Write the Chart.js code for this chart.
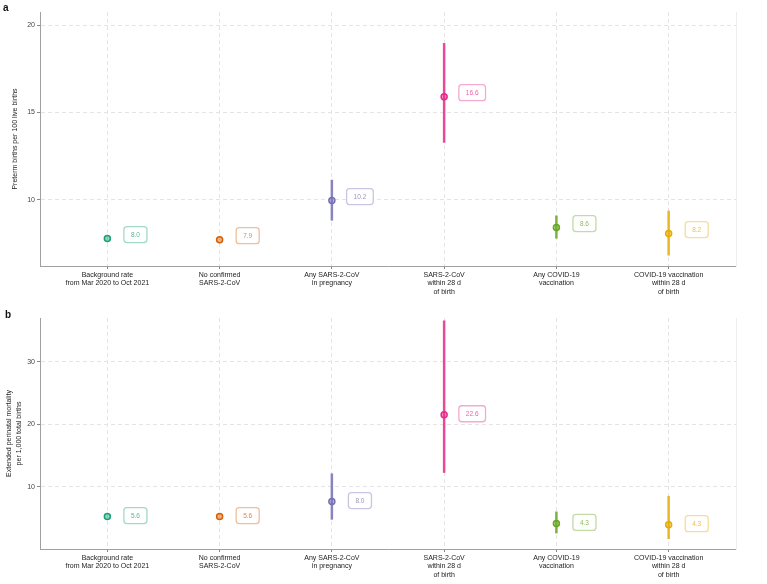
<!DOCTYPE html>
<html><head><meta charset="utf-8">
<script src="https://cdn.jsdelivr.net/npm/chart.js@4.4.0/dist/chart.umd.min.js"></script>
<style>
html,body{margin:0;padding:0;background:#fff;}
body{width:767px;height:584px;position:relative;overflow:hidden;font-family:'Liberation Sans',Arial,sans-serif;}
.panel{position:absolute;left:0;width:767px;}
.tag{position:absolute;font-weight:bold;font-size:10px;color:#111;line-height:10px;}
</style></head><body>
<div class="panel" style="top:0;height:300px"><canvas id="ca" width="767" height="300"></canvas></div>
<div class="panel" style="top:300px;height:284px"><canvas id="cb" width="767" height="284"></canvas></div>
<div class="tag" style="left:3px;top:3px">a</div>
<div class="tag" style="left:5px;top:310px">b</div>
<script>
// ---- data ----
const categories = [
  ['Background rate', 'from Mar 2020 to Oct 2021'],
  ['No confirmed', 'SARS-2-CoV'],
  ['Any SARS-2-CoV', 'in pregnancy'],
  ['SARS-2-CoV', 'within 28 d', 'of birth'],
  ['Any COVID-19', 'vaccination'],
  ['COVID-19 vaccination', 'within 28 d', 'of birth']
];
const colors = ['#1b9e77', '#d95f02', '#7570b3', '#e7298a', '#66a61e', '#e6ab02'];

const pretermRate   = [7.77, 7.71, 9.95, 15.9, 8.4, 8.06];
const pretermLower  = [null, null, 8.8, 13.26, 7.77, 6.8];
const pretermUpper  = [null, null, 11.14, 18.97, 9.09, 9.37];
const pretermLabels = ['8.0', '7.9', '10.2', '16.6', '8.6', '8.2'];
const pretermTicks  = [10, 15, 20];

const mortalityRate   = [5.2, 5.2, 7.6, 21.5, 4.1, 3.9];
const mortalityLower  = [null, null, 4.7, 12.2, 2.5, 1.6];
const mortalityUpper  = [null, null, 12.1, 36.6, 6.0, 8.5];
const mortalityLabels = ['5.6', '5.6', '8.0', '22.6', '4.3', '4.3'];
const mortalityTicks  = [10, 20, 30];

// ---- helpers ----
const FONT = "'Liberation Sans', Arial, sans-serif";
function hexA(hex, a) {
  const n = parseInt(hex.slice(1), 16);
  return `rgba(${(n >> 16) & 255},${(n >> 8) & 255},${n & 255},${a})`;
}

const valueBoxes = {
  id: 'valueBoxes',
  afterDatasetsDraw(chart, args, opts) {
    const dsIndex = chart.data.datasets.findIndex(d => d.valueLabels);
    if (dsIndex < 0) return;
    const d = chart.data.datasets[dsIndex];
    const meta = chart.getDatasetMeta(dsIndex);
    const xs = chart.scales.x;
    const ctx = chart.ctx;
    ctx.save();
    ctx.font = '6.5px ' + FONT;
    meta.data.forEach((pt, i) => {
      const txt = d.valueLabels[i];
      const w = ctx.measureText(txt).width + 14, h = 16;
      const cx = xs.getPixelForValue(i + 0.25);
      const cy = pt.y + opts.dy;
      ctx.beginPath();
      ctx.roundRect(cx - w / 2, cy - h / 2, w, h, 3);
      ctx.fillStyle = '#fff';
      ctx.fill();
      ctx.lineWidth = 1.3;
      ctx.strokeStyle = hexA(colors[i], 0.4);
      ctx.stroke();
      ctx.fillStyle = hexA(colors[i], 0.75);
      ctx.textAlign = 'center';
      ctx.textBaseline = 'middle';
      ctx.fillText(txt, cx, cy + 0.5);
    });
    ctx.restore();
  }
};

function makeChart(id, rate, lower, upper, labels, ticks, ymin, ymax, title, titlePad, padTop, xH, dy) {
  const datasets = [{
    data: rate.map((v, i) => ({ x: i, y: v })),
    valueLabels: labels,
    pointRadius: 3,
    pointBorderWidth: 1.5,
    pointBackgroundColor: colors.map(c => hexA(c, 0.45)),
    pointBorderColor: colors,
    showLine: false
  }];
  rate.forEach((v, i) => {
    if (lower[i] == null) return;
    datasets.push({
      data: [{ x: i, y: lower[i] }, { x: i, y: upper[i] }],
      showLine: true,
      borderColor: hexA(colors[i], 0.85),
      borderWidth: 2.5,
      pointRadius: 0
    });
  });
  return new Chart(document.getElementById(id), {
    type: 'scatter',
    data: { datasets },
    plugins: [valueBoxes],
    options: {
      responsive: false,
      animation: false,
      devicePixelRatio: 1,
      layout: { padding: { left: 0, right: 31, top: padTop, bottom: 0 } },
      plugins: { legend: { display: false }, tooltip: { enabled: false }, valueBoxes: { dy } },
      scales: {
        x: {
          type: 'linear', min: -0.6, max: 5.6,
          afterBuildTicks: s => { s.ticks = categories.map((c, i) => ({ value: i })); },
          afterFit: s => { s.height = xH; },
          ticks: {
            callback: v => categories[v],
            font: { size: 7, family: FONT, lineHeight: 1.18 },
            color: '#222', padding: 2, maxRotation: 0, autoSkip: false
          },
          grid: { color: '#e4e4e4', lineWidth: 1, drawTicks: true, tickLength: 3, tickColor: '#888' },
          border: { display: true, color: '#a0a0a0', width: 1, dash: [4, 3] }
        },
        y: {
          min: ymin, max: ymax,
          afterBuildTicks: s => { s.ticks = ticks.map(v => ({ value: v })); },
          afterFit: s => { s.width = 40; },
          ticks: { font: { size: 7, family: FONT }, color: '#444', padding: 2 },
          grid: { color: '#e4e4e4', lineWidth: 1, tickLength: 3, tickColor: '#888' },
          border: { display: true, color: '#a0a0a0', width: 1, dash: [4, 3] },
          title: { display: true, text: title, font: { size: 7, family: FONT, lineHeight: 1.3 }, color: '#222', padding: { top: titlePad, bottom: 0 } }
        },
        y2: {
          position: 'right', min: 0, max: 1,
          grid: { display: false },
          ticks: { display: false },
          border: { display: true, color: '#eeeeee', width: 1 },
          afterFit: s => { s.width = 0; }
        }
      }
    }
  });
}

makeChart('ca', pretermRate, pretermLower, pretermUpper, pretermLabels, pretermTicks,
  6.2, 20.75, 'Preterm births per 100 live births', 11, 12, 34, -4);
makeChart('cb', mortalityRate, mortalityLower, mortalityUpper, mortalityLabels, mortalityTicks,
  0, 37, ['Extended perinatal mortality', 'per 1,000 total births'], 5, 18, 35, -1);
</script>
</body></html>
